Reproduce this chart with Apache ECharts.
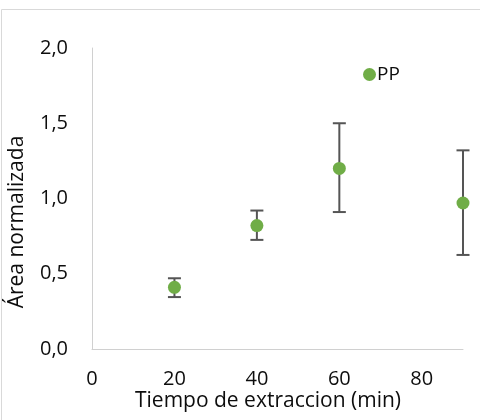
<!DOCTYPE html>
<html>
<head>
<meta charset="utf-8">
<script src="https://cdn.jsdelivr.net/npm/echarts@6/dist/echarts.min.js"></script>
<style>
  html, body { margin: 0; padding: 0; background: #fff; }
  #chart { width: 480px; height: 420px; }
</style>
</head>
<body>
<div id="chart"></div>
<script>
// datos
const tiempo = [20, 40, 60, 90]
const area = [0.41, 0.82, 1.20, 0.97]
const errAlto = [0.47, 0.92, 1.50, 1.32]
const errBajo = [0.345, 0.725, 0.91, 0.625]
const xTicks = [0, 20, 40, 60, 80]
const serie = 'PP'

const fuente = '"Open Sans", sans-serif'
const colorTexto = '#0d0d0d'

const chart = echarts.init(document.getElementById('chart'))

chart.setOption({
  animation: false,
  grid: { left: 92, right: 17, top: 48, bottom: 71 },
  legend: {
    data: [serie],
    left: 358, top: 60,
    icon: 'circle',
    itemWidth: 13, itemHeight: 13,
    itemGap: 4,
    textStyle: { fontFamily: fuente, fontSize: 19, color: colorTexto, padding: [0, 0, 0, -4] }
  },
  xAxis: {
    type: 'value',
    min: 0, max: 90, interval: 20,
    splitLine: { show: false },
    axisTick: { show: false },
    axisLine: { lineStyle: { color: '#d0d0d0', width: 1 } },
    axisLabel: {
      margin: 20,
      fontFamily: fuente, fontSize: 20, color: colorTexto,
      showMaxLabel: false,
      formatter: v => xTicks.includes(v) ? String(v) : ''
    }
  },
  yAxis: {
    type: 'value',
    min: 0, max: 2, interval: 0.5,
    splitLine: { show: false },
    axisTick: { show: false },
    axisLine: { show: true, lineStyle: { color: '#d0d0d0', width: 1 } },
    axisLabel: {
      margin: 24,
      fontFamily: fuente, fontSize: 20, color: colorTexto,
      formatter: v => v.toFixed(1).replace('.', ',')
    }
  },
  graphic: [
    {
      type: 'rect', silent: true,
      shape: { x: 1.5, y: 9.5, width: 520, height: 520 },
      style: { fill: 'none', stroke: '#d9d9d9', lineWidth: 1 }
    },
    {
      type: 'text', silent: true,
      x: 268, y: 401,
      style: {
        text: 'Tiempo de extraccion (min)',
        fontFamily: fuente, fontSize: 21, fill: colorTexto,
        align: 'center', verticalAlign: 'middle'
      }
    },
    {
      type: 'text', silent: true,
      x: 17, y: 222, rotation: Math.PI / 2,
      style: {
        text: 'Área normalizada',
        fontFamily: fuente, fontSize: 21, fill: colorTexto,
        align: 'center', verticalAlign: 'middle'
      }
    }
  ],
  series: [
    {
      type: 'custom',
      z: 1,
      silent: true,
      data: tiempo.map((t, i) => [t, errAlto[i], errBajo[i]]),
      renderItem(params, api) {
        const arriba = api.coord([api.value(0), api.value(1)])
        const abajo = api.coord([api.value(0), api.value(2)])
        const m = 6.5
        const estilo = { stroke: '#555555', lineWidth: 2 }
        return {
          type: 'group',
          children: [
            { type: 'line', shape: { x1: arriba[0], y1: arriba[1], x2: abajo[0], y2: abajo[1] }, style: estilo },
            { type: 'line', shape: { x1: arriba[0] - m, y1: arriba[1], x2: arriba[0] + m, y2: arriba[1] }, style: estilo },
            { type: 'line', shape: { x1: abajo[0] - m, y1: abajo[1], x2: abajo[0] + m, y2: abajo[1] }, style: estilo }
          ]
        }
      }
    },
    {
      name: serie,
      type: 'scatter',
      z: 3,
      symbol: 'circle',
      symbolSize: 13,
      itemStyle: { color: '#70ad47', opacity: 1 },
      data: tiempo.map((t, i) => [t, area[i]])
    }
  ]
})
</script>
</body>
</html>
